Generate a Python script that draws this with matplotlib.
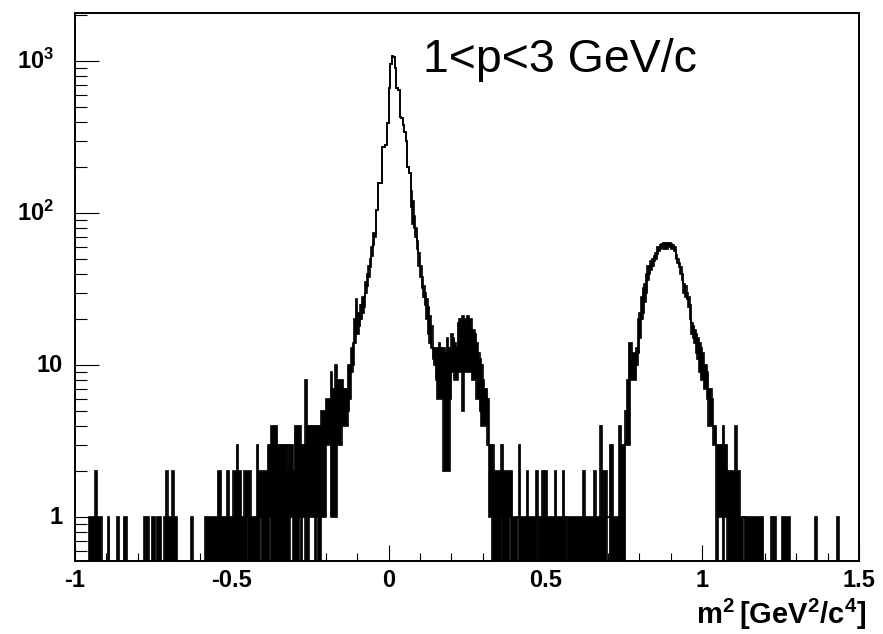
import numpy as np
import matplotlib
matplotlib.use('Agg')
import matplotlib.pyplot as plt
from matplotlib.ticker import FixedLocator, NullFormatter
from matplotlib.transforms import blended_transform_factory

plt.rcParams['font.family'] = ['Liberation Sans', 'DejaVu Sans']
plt.rcParams['mathtext.fontset'] = 'custom'
plt.rcParams['mathtext.rm'] = 'Liberation Sans'
plt.rcParams['mathtext.bf'] = 'Liberation Sans:bold'
plt.rcParams['axes.unicode_minus'] = False

# m^2 histogram, bins of 0.005 from -1 to 1.5 (20 bins per row = 0.1)
# hi = upper envelope of the drawn histogram, lo = lower envelope (0 = empty)
hi_counts = [
    0, 0, 0, 0, 0, 0, 0, 0, 0, 1, 1, 1, 1, 2, 1, 1, 1, 0, 0, 0,               # -1.0
    0, 1, 0, 0, 0, 0, 0, 1, 0, 0, 0, 1, 1, 0, 0, 0, 0, 0, 0, 0,               # -0.9
    0, 0, 0, 0, 1, 0, 1, 0, 0, 1, 1, 0, 1, 1, 1, 0, 0, 1, 2, 1,               # -0.8
    1, 1, 2, 1, 1, 0, 0, 0, 0, 0, 0, 0, 0, 0, 1, 0, 0, 0, 0, 0,               # -0.7
    0, 0, 0, 1, 1, 1, 1, 1, 1, 1, 1, 2, 2, 1, 1, 1, 1, 2, 1, 1,               # -0.6
    1, 2, 2, 3, 2, 2, 1, 1, 2, 2, 2, 2, 1, 1, 1, 1, 3, 2, 2, 2,               # -0.5
    2, 2, 2, 3, 3, 4, 4, 4, 4, 3, 3, 3, 3, 3, 3, 2, 3, 3, 3, 2,               # -0.4
    4, 4, 4, 4, 3, 3, 3, 8, 4, 4, 4, 4, 4, 4, 4, 4, 4, 5, 5, 5,               # -0.3
    6, 6, 6, 9, 7, 7, 10, 8, 8, 8, 8, 7, 7, 7, 10, 10, 13, 14, 20, 27,        # -0.2
    22, 20, 25, 28, 28, 35, 40, 45, 50, 60, 74, 74, 105, 157, 157, 157, 273, 273, 280, 389,  # -0.1
    661, 950, 1085, 1060, 900, 661, 646, 430, 420, 380, 340, 300, 200, 183, 140, 120, 95, 80, 65, 55,  # 0.0
    45, 38, 33, 30, 27, 24, 21, 18, 13, 13, 13, 13, 14, 13, 12, 13, 12, 15, 13, 12,  # 0.1
    16, 15, 14, 13, 19, 20, 20, 21, 20, 20, 21, 20, 20, 17, 17, 16, 14, 12, 11, 10,  # 0.2
    8, 7, 7, 6, 3, 3, 3, 2, 2, 2, 2, 2, 3, 2, 2, 2, 2, 2, 2, 1,               # 0.3
    1, 1, 1, 3, 1, 1, 1, 1, 2, 1, 1, 1, 1, 1, 2, 1, 1, 1, 2, 1,               # 0.4
    2, 1, 1, 1, 1, 1, 2, 1, 1, 1, 1, 2, 1, 1, 1, 1, 1, 1, 1, 1,               # 0.5
    1, 1, 1, 1, 2, 1, 1, 1, 1, 1, 1, 2, 1, 1, 1, 4, 1, 2, 2, 1,               # 0.6
    1, 3, 3, 1, 1, 1, 1, 4, 3, 3, 3, 5, 8, 14, 14, 11, 12, 12, 13, 20,        # 0.7
    22, 28, 32, 34, 40, 45, 45, 48, 50, 52, 55, 60, 60, 62, 63, 64, 62, 64, 63, 64,  # 0.8
    63, 62, 60, 53, 50, 47, 44, 40, 34, 33, 30, 28, 25, 19, 18, 17, 16, 15, 14, 13,  # 0.9
    12, 10, 10, 9, 7, 7, 6, 4, 4, 3, 3, 3, 3, 4, 3, 3, 2, 2, 2, 2,            # 1.0
    2, 4, 2, 2, 1, 1, 1, 1, 1, 1, 1, 1, 1, 1, 1, 1, 1, 1, 1, 0,               # 1.1
    0, 0, 0, 0, 1, 0, 1, 0, 0, 0, 0, 1, 1, 1, 1, 1, 0, 0, 0, 0,               # 1.2
    0, 0, 0, 0, 0, 0, 0, 0, 0, 0, 0, 0, 1, 0, 0, 0, 0, 0, 0, 0,               # 1.3
    0, 0, 0, 0, 0, 0, 1, 0, 0, 0, 0, 0, 0, 0, 0, 0, 0, 0, 0, 0,               # 1.4
]
lo_counts = [
    0, 0, 0, 0, 0, 0, 0, 0, 0, 0, 0, 0, 0, 0, 0, 0, 0, 0, 0, 0,               # -1.0
    0, 0, 0, 0, 0, 0, 0, 0, 0, 0, 0, 0, 0, 0, 0, 0, 0, 0, 0, 0,               # -0.9
    0, 0, 0, 0, 0, 0, 0, 0, 0, 0, 0, 0, 0, 0, 0, 0, 0, 0, 0, 0,               # -0.8
    0, 0, 0, 0, 0, 0, 0, 0, 0, 0, 0, 0, 0, 0, 0, 0, 0, 0, 0, 0,               # -0.7
    0, 0, 0, 0, 0, 0, 0, 0, 0, 0, 0, 0, 0, 0, 0, 0, 0, 0, 0, 0,               # -0.6
    0, 0, 0, 0, 0, 0, 0, 0, 0, 1, 0, 0, 0, 0, 0, 0, 0, 0, 1, 0,               # -0.5
    0, 0, 0, 0, 1, 0, 0, 0, 0, 0, 0, 0, 0, 0, 0, 0, 0, 1, 1, 0,               # -0.4
    0, 0, 0, 1, 0, 1, 1, 0, 0, 1, 1, 1, 1, 0, 1, 0, 0, 1, 1, 1,               # -0.3
    3, 3, 3, 1, 1, 1, 1, 3, 3, 3, 4, 4, 4, 4, 5, 6, 9, 10, 14, 16,            # -0.2
    16, 18, 20, 22, 24, 30, 33, 38, 44, 52, 62, 70, 105, 157, 157, 157, 273, 273, 280, 389,  # -0.1
    661, 950, 1085, 1060, 900, 661, 646, 430, 420, 380, 340, 300, 200, 183, 110, 85, 80, 70, 58, 45,  # 0.0
    38, 32, 28, 25, 20, 16, 14, 13, 11, 10, 8, 6, 6, 6, 6, 2, 2, 2, 2, 6,     # 0.1
    9, 9, 8, 8, 9, 9, 9, 5, 9, 9, 9, 9, 9, 8, 8, 8, 6, 6, 5, 4,               # 0.2
    4, 4, 4, 3, 1, 1, 0, 0, 0, 0, 0, 1, 0, 0, 0, 0, 0, 1, 0, 0,               # 0.3
    0, 0, 1, 0, 0, 0, 0, 0, 0, 0, 0, 0, 0, 0, 0, 1, 0, 0, 0, 0,               # 0.4
    0, 0, 0, 0, 0, 0, 0, 0, 0, 0, 0, 0, 0, 1, 0, 0, 0, 0, 0, 0,               # 0.5
    0, 0, 0, 0, 0, 0, 0, 0, 0, 0, 0, 0, 0, 0, 0, 0, 0, 0, 0, 1,               # 0.6
    1, 0, 0, 0, 0, 0, 0, 0, 0, 0, 0, 3, 3, 3, 8, 8, 8, 8, 10, 12,             # 0.7
    15, 20, 22, 26, 30, 36, 40, 42, 45, 48, 50, 54, 56, 58, 60, 58, 60, 58, 60, 60,  # 0.8
    58, 58, 56, 50, 47, 44, 40, 36, 30, 28, 27, 24, 20, 16, 15, 14, 12, 11, 9, 8,  # 0.9
    8, 7, 7, 6, 4, 4, 4, 3, 3, 0, 1, 1, 1, 0, 1, 1, 0, 0, 0, 0,               # 1.0
    0, 0, 0, 0, 0, 0, 1, 0, 0, 0, 0, 0, 0, 0, 0, 0, 0, 0, 0, 0,               # 1.1
    0, 0, 0, 0, 0, 0, 0, 0, 0, 0, 0, 0, 0, 0, 0, 0, 0, 0, 0, 0,               # 1.2
    0, 0, 0, 0, 0, 0, 0, 0, 0, 0, 0, 0, 0, 0, 0, 0, 0, 0, 0, 0,               # 1.3
    0, 0, 0, 0, 0, 0, 0, 0, 0, 0, 0, 0, 0, 0, 0, 0, 0, 0, 0, 0,               # 1.4
]

x_ticks = [-1, -0.5, 0, 0.5, 1, 1.5]
x_tick_labels = ['-1', '-0.5', '0', '0.5', '1', '1.5']
y_ticks = [1, 10, 100, 1000]
y_tick_labels = ['1', '10', r'$\mathbf{10^{2}}$', r'$\mathbf{10^{3}}$']
label_text = '1<p<3 GeV/c'
x_title = r'$\mathbf{m^{2}\,[GeV^{2}/c^{4}]}$'

edges = np.linspace(-1.0, 1.5, len(hi_counts) + 1)
hi = np.array(hi_counts, dtype=float)
lo = np.array(lo_counts, dtype=float)
floor = 0.3   # empty bins drop below the frame
hi_p = np.where(hi > 0, hi, floor)
lo_p = np.where(lo > 0, lo, floor)

fig = plt.figure(figsize=(8.83, 6.34), dpi=100)
ax = fig.add_axes([75/883, 1 - 561/634, 784/883, 548/634])
ax.set_yscale('log')

ax.stairs(hi_p, edges, baseline=lo_p, fill=True, color='black', lw=0)
ax.stairs(hi_p, edges, baseline=None, color='black', lw=1.2)
ax.stairs(lo_p, edges, baseline=None, color='black', lw=1.2)

ax.set_xlim(-1, 1.5)
ax.set_ylim(0.514, 2070)

ax.xaxis.set_major_locator(FixedLocator(x_ticks))
ax.set_xticklabels(x_tick_labels, fontweight='bold', fontsize=17)
ax.xaxis.set_minor_locator(FixedLocator(np.arange(-1, 1.51, 0.1)))
ax.yaxis.set_major_locator(FixedLocator(y_ticks))
ax.yaxis.set_minor_locator(FixedLocator([0.6, 0.7, 0.8, 0.9] +
                                        [m * d for d in (1, 10, 100) for m in range(2, 10)] + [2000]))
ax.yaxis.set_major_formatter(NullFormatter())
ax.yaxis.set_minor_formatter(NullFormatter())

ax.tick_params(axis='x', which='major', direction='in', length=11.5, width=0.8, pad=6)
ax.tick_params(axis='x', which='minor', direction='in', length=5.8, width=0.8)
ax.tick_params(axis='y', which='major', direction='in', length=17, width=0.8)
ax.tick_params(axis='y', which='minor', direction='in', length=8.6, width=0.8)
for s in ax.spines.values():
    s.set_linewidth(1.4)

tr = blended_transform_factory(ax.transAxes, ax.transData)
for v, t in zip(y_ticks, y_tick_labels):
    xpos = -0.016 if v < 100 else -0.027
    ax.text(xpos, v, t, transform=tr, ha='right', va='center',
            fontweight='bold', fontsize=17)

ax.text(0.444, 0.892, label_text, transform=ax.transAxes, fontsize=33.5,
        ha='left', va='baseline')
fig.text(866/883, 1 - 624/634, x_title, fontsize=21, ha='right', va='baseline')

fig.savefig('out.png', dpi=100)
